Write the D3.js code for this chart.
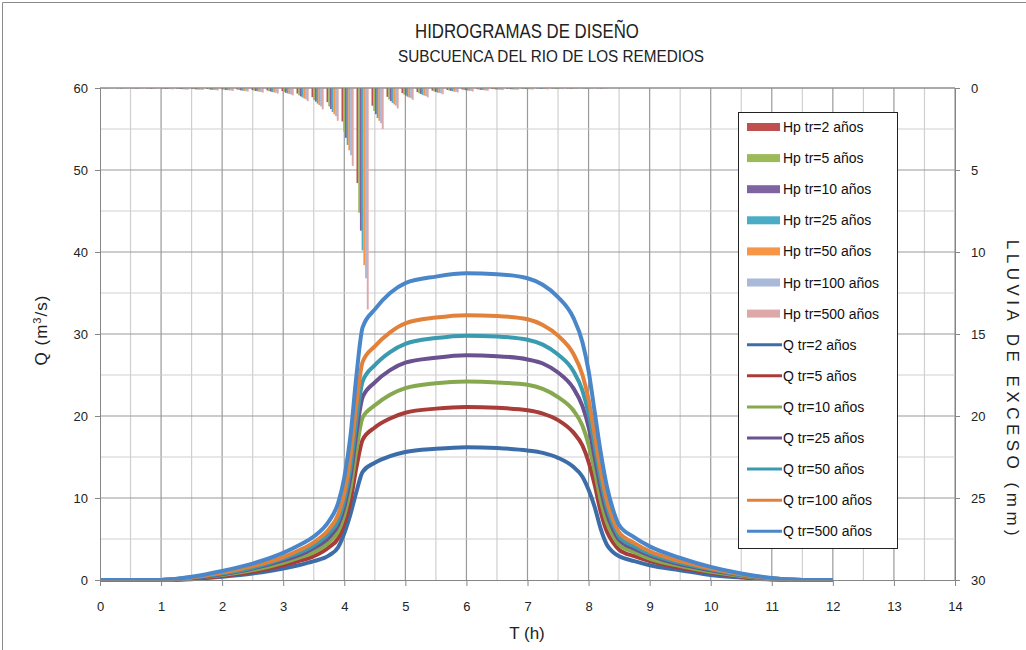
<!DOCTYPE html>
<meta charset="utf-8">
<head>
<title>Hidrogramas de diseño</title>
<script src="https://cdnjs.cloudflare.com/ajax/libs/d3/7.8.5/d3.min.js"></script>
</head>
<style>
body { margin: 0; background: #fff; }
svg { font-family: "Liberation Sans", Arial, sans-serif; }
.tick text { font-size: 13px; fill: #222; }
.axis path, .axis line { stroke: #868686; }
</style>
<body>
<svg width="1026" height="650"></svg>
<script>
// time axis of the hydrographs (h)
var T = [0, 1, 1.5, 2, 2.5, 3, 3.25, 3.5, 3.75, 3.9, 4.0, 4.1, 4.2, 4.3, 4.5, 4.75, 5, 5.5, 6, 6.5, 7, 7.25, 7.5, 7.75, 7.9, 8.0, 8.1, 8.2, 8.3, 8.4, 8.5, 8.75, 9, 9.5, 10, 10.5, 11, 11.5, 12];

// discharge Q (m3/s) for each return period
var q2   = [0, 0, 0.1, 0.4, 0.8, 1.4, 1.8, 2.3, 3.0, 4.0, 5.7, 8.0, 10.8, 13.2, 14.3, 15.1, 15.6, 16.0, 16.2, 16.1, 15.8, 15.5, 14.9, 13.8, 12.6, 11.0, 8.9, 6.2, 4.3, 3.4, 2.9, 2.3, 1.8, 1.2, 0.6, 0.3, 0.05, 0, 0];
var q5   = [0, 0, 0.15, 0.5, 1.0, 1.8, 2.3, 2.9, 4.0, 5.1, 6.9, 9.6, 13.8, 17.1, 18.6, 19.7, 20.4, 20.9, 21.1, 21.0, 20.7, 20.3, 19.5, 18.0, 16.4, 14.4, 11.6, 8.3, 5.9, 4.6, 3.7, 2.9, 2.3, 1.5, 0.9, 0.4, 0.1, 0, 0];
var q10  = [0, 0, 0.2, 0.6, 1.2, 2.1, 2.7, 3.4, 4.6, 5.9, 7.9, 11.1, 15.9, 19.8, 21.3, 22.6, 23.4, 24.0, 24.2, 24.1, 23.8, 23.3, 22.3, 20.7, 18.8, 16.5, 13.3, 9.7, 7.0, 5.4, 4.3, 3.4, 2.6, 1.7, 1.0, 0.5, 0.1, 0, 0];
var q25  = [0, 0, 0.2, 0.7, 1.4, 2.4, 3.0, 3.9, 5.2, 6.7, 8.9, 12.5, 18.0, 22.3, 24.1, 25.6, 26.5, 27.1, 27.4, 27.3, 26.9, 26.4, 25.3, 23.4, 21.2, 18.7, 15.0, 11.1, 8.1, 6.2, 4.9, 3.8, 3.0, 1.9, 1.2, 0.6, 0.15, 0, 0];
var q50  = [0, 0, 0.3, 0.8, 1.5, 2.6, 3.3, 4.2, 5.7, 7.3, 9.7, 13.6, 19.5, 24.2, 26.2, 27.8, 28.8, 29.5, 29.8, 29.7, 29.3, 28.7, 27.5, 25.5, 23.1, 20.3, 16.3, 12.2, 8.9, 6.8, 5.3, 4.1, 3.2, 2.1, 1.3, 0.6, 0.2, 0, 0];
var q100 = [0, 0, 0.3, 0.9, 1.7, 2.8, 3.6, 4.6, 6.2, 8.0, 10.6, 15.0, 21.5, 26.6, 28.5, 30.2, 31.3, 32.0, 32.3, 32.2, 31.8, 31.1, 29.8, 27.6, 25.0, 22.0, 17.7, 13.3, 9.7, 7.4, 5.8, 4.5, 3.5, 2.3, 1.4, 0.7, 0.2, 0, 0];
var q500 = [0, 0, 0.4, 1.1, 2.0, 3.3, 4.2, 5.3, 7.2, 9.4, 12.5, 17.5, 25.0, 30.8, 33.0, 35.0, 36.2, 37.0, 37.4, 37.3, 36.8, 36.0, 34.5, 32.0, 29.0, 25.5, 20.5, 15.5, 11.4, 8.6, 6.7, 5.2, 4.1, 2.7, 1.6, 0.8, 0.25, 0, 0];

// excess rainfall Hp (mm) per interval, hanging from the top
var BAR_SLOTS = 57;
var hp2   = [0.01, 0.02, 0.02, 0.03, 0.03, 0.04, 0.05, 0.06, 0.08, 0.09, 0.12, 0.15, 0.19, 0.34, 0.56, 0.86, 2.04, 5.8, 1.08, 0.54, 0.31, 0.25, 0.16, 0.12, 0.09, 0.07, 0.06, 0.05, 0.04, 0.03, 0.03, 0.03, 0.02, 0.02];
var hp5   = [0.02, 0.02, 0.03, 0.03, 0.04, 0.06, 0.07, 0.08, 0.10, 0.12, 0.16, 0.19, 0.25, 0.45, 0.73, 1.12, 2.66, 7.6, 1.40, 0.70, 0.40, 0.32, 0.21, 0.15, 0.12, 0.10, 0.07, 0.06, 0.05, 0.04, 0.04, 0.03, 0.03, 0.02];
var hp10  = [0.02, 0.03, 0.03, 0.04, 0.05, 0.06, 0.08, 0.10, 0.12, 0.14, 0.18, 0.22, 0.29, 0.51, 0.83, 1.28, 3.04, 8.7, 1.60, 0.80, 0.46, 0.36, 0.24, 0.17, 0.13, 0.11, 0.08, 0.07, 0.06, 0.05, 0.04, 0.04, 0.03, 0.03];
var hp25  = [0.02, 0.03, 0.04, 0.04, 0.06, 0.07, 0.09, 0.11, 0.13, 0.16, 0.20, 0.25, 0.33, 0.58, 0.95, 1.46, 3.47, 9.9, 1.83, 0.91, 0.53, 0.42, 0.28, 0.20, 0.15, 0.12, 0.09, 0.08, 0.07, 0.06, 0.05, 0.04, 0.04, 0.03];
var hp50  = [0.02, 0.03, 0.04, 0.05, 0.06, 0.08, 0.10, 0.12, 0.14, 0.18, 0.22, 0.27, 0.36, 0.64, 1.04, 1.60, 3.80, 10.8, 2.00, 1.00, 0.58, 0.46, 0.30, 0.22, 0.17, 0.14, 0.10, 0.09, 0.07, 0.06, 0.06, 0.05, 0.04, 0.03];
var hp100 = [0.03, 0.03, 0.04, 0.05, 0.07, 0.09, 0.10, 0.13, 0.15, 0.19, 0.24, 0.29, 0.39, 0.69, 1.12, 1.72, 4.10, 11.6, 2.15, 1.08, 0.62, 0.49, 0.33, 0.23, 0.18, 0.15, 0.11, 0.09, 0.08, 0.07, 0.06, 0.05, 0.04, 0.03];
var hp500 = [0.03, 0.04, 0.05, 0.06, 0.08, 0.10, 0.12, 0.15, 0.18, 0.22, 0.28, 0.34, 0.45, 0.80, 1.30, 2.00, 4.75, 13.5, 2.50, 1.25, 0.72, 0.57, 0.38, 0.27, 0.21, 0.17, 0.13, 0.11, 0.09, 0.08, 0.07, 0.06, 0.05, 0.04];

var barSeries = [
  {name: "Hp tr=2 años",   color: "#C0504D", v: hp2},
  {name: "Hp tr=5 años",   color: "#9BBB59", v: hp5},
  {name: "Hp tr=10 años",  color: "#8064A2", v: hp10},
  {name: "Hp tr=25 años",  color: "#4BACC6", v: hp25},
  {name: "Hp tr=50 años",  color: "#F79646", v: hp50},
  {name: "Hp tr=100 años", color: "#A9B9D9", v: hp100},
  {name: "Hp tr=500 años", color: "#DDA9A8", v: hp500}
];
var lineSeries = [
  {name: "Q tr=2 años",   color: "#3D6DA8", v: q2},
  {name: "Q tr=5 años",   color: "#A83C39", v: q5},
  {name: "Q tr=10 años",  color: "#86A84F", v: q10},
  {name: "Q tr=25 años",  color: "#6A5290", v: q25},
  {name: "Q tr=50 años",  color: "#3A9AB0", v: q50},
  {name: "Q tr=100 años", color: "#E2823A", v: q100},
  {name: "Q tr=500 años", color: "#4A87CA", v: q500}
];

var qTicks = [0, 10, 20, 30, 40, 50, 60];
var hpTicks = [0, 5, 10, 15, 20, 25, 30];
var tTicks = [0, 1, 2, 3, 4, 5, 6, 7, 8, 9, 10, 11, 12, 13, 14];

//////////////////////////////////////////////////
// Layout
//////////////////////////////////////////////////
var pLeft = 100, pRight = 955, pTop = 88, pBottom = 580;
var svg = d3.select("svg");

// chart frame
svg.append("path").attr("d", "M2.5,650 V2.5 H1026")
  .attr("fill", "none").attr("stroke", "#8a8a8a");

var x = d3.scaleLinear().domain([0, 14]).range([pLeft, pRight]);
var y = d3.scaleLinear().domain([0, 60]).range([pBottom, pTop]);
var y2 = d3.scaleLinear().domain([0, 30]).range([pTop, pBottom]);

var pad = 0.2;
var xb = d3.scaleBand().domain(d3.range(BAR_SLOTS)).range([pLeft, pRight])
  .paddingInner(pad).paddingOuter(pad / 2);
var xs = d3.scaleBand().domain(barSeries.map(function(d){ return d.name; }))
  .range([0, xb.bandwidth()]);

// grid
var grid = svg.append("g");
d3.range(0.5, 14.01, 0.5).forEach(function(t) {
  grid.append("line").attr("x1", x(t)).attr("x2", x(t)).attr("y1", pTop).attr("y2", pBottom)
    .attr("stroke", t % 1 === 0 ? "#9a9a9a" : "#cfcfcf").attr("stroke-width", 1.2);
});
d3.range(5, 60.01, 5).forEach(function(q) {
  grid.append("line").attr("x1", pLeft).attr("x2", pRight).attr("y1", y(q)).attr("y2", y(q))
    .attr("stroke", q % 10 === 0 ? "#9a9a9a" : "#cfcfcf").attr("stroke-width", 1.2);
});

// hyetograph bars
var bars = svg.append("g");
barSeries.forEach(function(s) {
  bars.selectAll(null).data(s.v).enter().append("rect")
    .attr("x", function(d, i){ return xb(i) + xs(s.name); })
    .attr("width", xs.bandwidth() + 0.2)
    .attr("y", y2(0))
    .attr("height", function(d){ return y2(d) - y2(0); })
    .attr("fill", s.color);
});

// hydrographs
var line = d3.line()
  .x(function(d, i){ return x(T[i]); })
  .y(function(d){ return y(d); })
  .curve(d3.curveMonotoneX);
lineSeries.forEach(function(s) {
  svg.append("path").datum(s.v)
    .attr("d", line)
    .attr("fill", "none")
    .attr("stroke", s.color)
    .attr("stroke-width", 4)
    .attr("stroke-linejoin", "round");
});

// axes
svg.append("g").attr("class", "axis").attr("transform", "translate(" + pLeft + ",0)")
  .call(d3.axisLeft(y).tickValues(qTicks).tickSize(5).tickPadding(7));
svg.append("g").attr("class", "axis").attr("transform", "translate(" + pRight + ",0)")
  .call(d3.axisRight(y2).tickValues(hpTicks).tickSize(5).tickPadding(11));
svg.append("g").attr("class", "axis").attr("transform", "translate(0," + pBottom + ")")
  .call(d3.axisBottom(x).tickValues(tTicks).tickSize(6).tickPadding(16));
svg.append("line").attr("x1", pLeft).attr("x2", pRight).attr("y1", pTop).attr("y2", pTop)
  .attr("stroke", "#868686");

// titles (narrowed to match the condensed face of the original)
svg.append("text").attr("transform", "translate(527,38) scale(0.8,1)").attr("text-anchor", "middle")
  .style("font-size", "21px").attr("fill", "#222").text("HIDROGRAMAS DE DISEÑO");
svg.append("text").attr("transform", "translate(551,62) scale(0.9,1)").attr("text-anchor", "middle")
  .style("font-size", "17px").attr("fill", "#222").text("SUBCUENCA DEL RIO DE LOS REMEDIOS");
svg.append("text").attr("x", 527).attr("y", 639).attr("text-anchor", "middle")
  .style("font-size", "17px").attr("fill", "#222").text("T (h)");
svg.append("text").attr("transform", "translate(47,330) rotate(-90)").attr("text-anchor", "middle")
  .style("font-size", "17px").style("letter-spacing", "1px").attr("fill", "#222")
  .html("Q (m<tspan dy='-6' font-size='11px'>3</tspan><tspan dy='6'>/s)</tspan>");
svg.append("text").attr("transform", "translate(1007,390) rotate(90)").attr("text-anchor", "middle")
  .style("font-size", "17px").style("letter-spacing", "4.5px").attr("fill", "#222")
  .text("LLUVIA DE EXCESO (mm)");

// legend
var lg = svg.append("g");
lg.append("rect").attr("x", 738.5).attr("y", 112.5).attr("width", 159).attr("height", 436)
  .attr("fill", "#fff").attr("stroke", "#222");
var items = barSeries.map(function(s){ return {s: s, bar: true}; })
  .concat(lineSeries.map(function(s){ return {s: s, bar: false}; }));
items.forEach(function(it, i) {
  var cy = 127 + i * 31.1;
  if (it.bar) {
    lg.append("rect").attr("x", 747).attr("y", cy - 4).attr("width", 33).attr("height", 8)
      .attr("fill", it.s.color);
  } else {
    lg.append("line").attr("x1", 747).attr("x2", 782).attr("y1", cy).attr("y2", cy)
      .attr("stroke", it.s.color).attr("stroke-width", 3);
  }
  lg.append("text").attr("x", 783).attr("y", cy + 5).style("font-size", "14px")
    .attr("fill", "#111").text(it.s.name);
});
</script>
</body>
</html>
